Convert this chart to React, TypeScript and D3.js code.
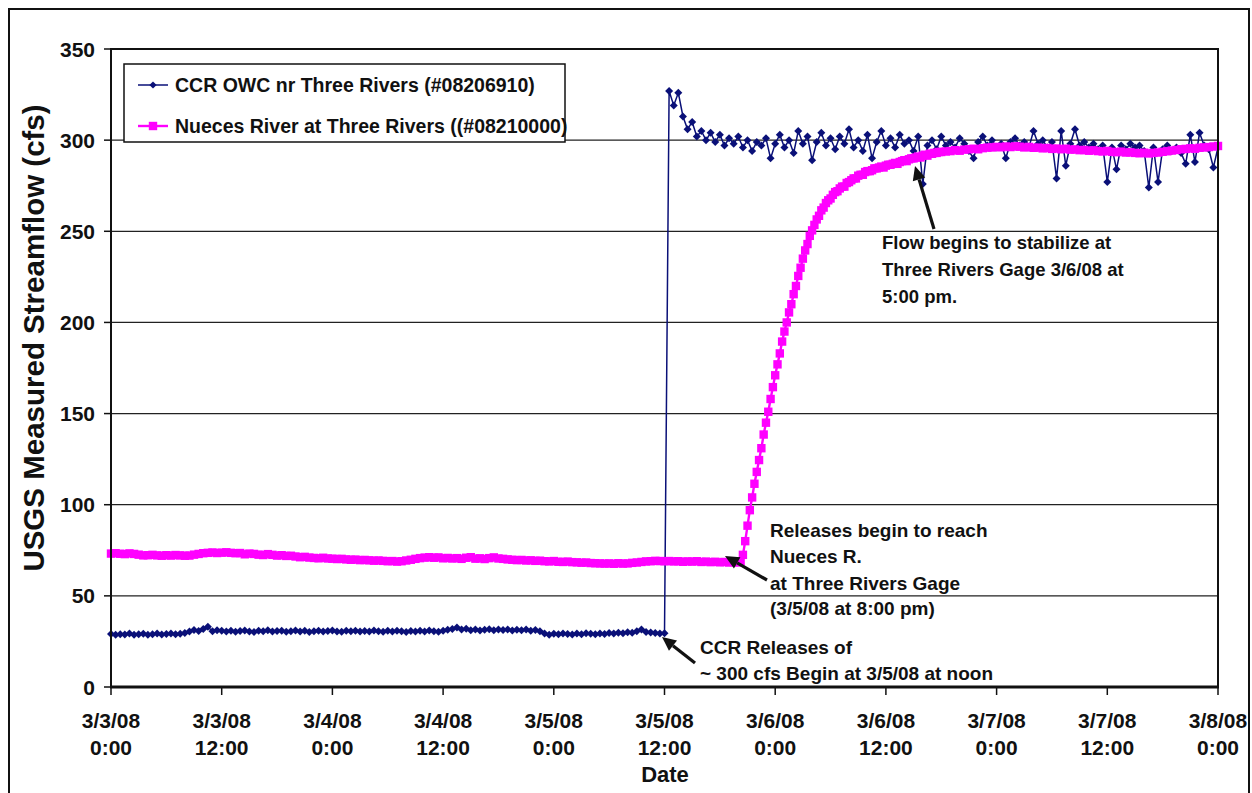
import React from "react";
import * as d3 from "d3";

// ---- Data (cfs) ----
// CCR OWC nr Three Rivers, 30-min values from 3/3/08 0:00 to 3/5/08 12:00
const ccrPre = [
  29.1, 28.6, 29.0, 28.8, 29.3, 28.7, 28.9, 29.2, 28.6, 29.0,
  29.3, 28.8, 29.1, 29.4, 28.9, 29.2, 29.6, 30.4, 31.3, 30.7,
  31.8, 33.0, 30.6, 31.2, 30.8, 30.4, 30.9, 30.3, 30.7, 31.0,
  30.5, 30.2, 30.8, 30.6, 31.1, 30.4, 30.7, 30.9, 30.3, 30.6,
  31.0, 30.5, 30.8, 30.2, 30.6, 30.9, 30.4, 30.7, 31.0, 30.5,
  30.3, 30.8, 30.6, 30.9, 30.4, 30.7, 30.5, 31.0, 30.6, 30.3,
  30.8, 30.5, 30.9, 30.6, 30.2, 30.7, 30.4, 30.8, 30.5, 31.0,
  30.6, 30.3, 30.9, 31.4, 31.8, 32.6, 31.5, 31.9, 31.2, 31.6,
  31.0, 31.4, 31.7, 31.1, 31.5, 31.3, 31.6, 31.0, 31.4, 31.2,
  31.5, 30.9, 31.3, 30.6, 29.4, 28.7, 29.2, 28.9, 29.4, 29.1,
  28.8, 29.3, 29.0, 29.5, 29.2, 28.9, 29.4, 29.1, 29.6, 29.3,
  29.8, 29.5, 30.1, 29.8, 30.6, 31.6, 30.2, 29.9, 29.6, 29.4,
  29.5,
];
// CCR OWC, 30-min values from 3/5/08 12:30 to 3/8/08 0:00
const ccrPost = [
  327, 319, 326, 313, 306, 310, 302, 305, 300, 304,
  299, 303, 297, 301, 298, 302, 296, 300, 294, 299,
  297, 301, 290, 298, 303, 296, 300, 293, 305, 298,
  302, 289, 299, 304, 297, 301, 295, 302, 298, 306,
  296, 300, 294, 303, 290, 299, 305, 297, 301, 296,
  303, 298, 300, 294, 302, 276, 297, 300, 295, 302,
  297, 299, 296, 301, 298, 294, 290, 299, 302, 297,
  300, 296, 298, 290, 299, 301, 297, 299, 296, 305,
  298, 300, 296, 299, 279, 305, 286, 298, 306, 297,
  299, 296, 298, 295, 297, 277, 296, 284, 297, 295,
  298, 296, 297, 294, 274, 296, 277, 295, 297, 294,
  296, 293, 287, 303, 288, 304, 297, 295, 285, 296,
];
// Nueces River at Three Rivers, 30-min values from 3/3/08 0:00 to 3/5/08 19:30
const nuecesFlat = [
  73.2, 73.4, 73.1, 72.9, 73.3, 73.0, 72.6, 72.2, 72.3, 72.5, 72.2,
  72.0, 72.3, 72.1, 72.4, 72.2, 72.0, 72.1, 72.6, 73.0, 73.4,
  73.6, 73.8, 73.5, 73.7, 73.9, 73.6, 73.4, 73.5, 72.8, 73.2, 73.0, 72.6,
  72.4, 72.9, 72.5, 72.1, 72.3, 71.9, 72.0, 71.6, 71.2, 71.4, 71.0, 70.8, 70.6, 70.9, 70.5, 70.4,
  70.2, 70.3, 70.0, 69.8, 69.9, 69.6, 69.7, 69.5, 69.3, 69.4, 69.2, 69.0, 69.1, 68.8, 69.0, 69.4, 69.8, 70.3,
  70.7, 71.0, 71.2, 70.9, 71.1, 70.6, 70.8, 70.5, 70.7, 70.3, 70.9, 71.2, 70.4, 70.6, 70.2, 70.7, 71.1, 70.5, 70.3, 70.0,
  69.8, 69.6, 69.7, 69.4, 69.5, 69.2, 69.3, 69.0, 68.9, 69.1, 68.7, 68.6, 68.8, 68.5, 68.4, 68.2, 68.3, 68.0, 67.9, 67.8,
  67.7, 67.8, 67.6, 67.9, 67.7, 67.8, 68.1, 68.3, 68.6, 68.9, 69.0, 69.2, 69.1, 69.0,
  69.1, 68.9, 69.0, 68.7, 68.9, 68.8, 69.0, 68.6, 68.8, 68.5, 68.7, 68.4, 68.6, 68.3, 68.5,
];
// Nueces River, 15-min values from 3/5/08 20:00 to 3/6/08 18:00
const nuecesRise = [
  68.3, 69.0, 72.5, 80, 88.5, 97, 104, 111.5, 118, 124.5, 131, 138.5,
  145, 151, 158, 164.5, 171, 177, 183, 189.5, 195, 200, 205.5, 210,
  215.5, 220, 225.5, 230, 235, 239.5, 243, 247.5, 250.5, 253.5, 256.5, 258.5,
  261.5, 263, 265.5, 267, 268, 270, 271.5, 272, 273.5, 274.5, 274.5, 276.5,
  277, 278, 279, 279, 280.5, 281, 281, 282.5, 283, 283, 283.5, 284.5,
  284.5, 285, 285.5, 285, 286, 286.5, 286.5, 287, 287.5, 287, 288, 288.5,
  289, 288.5, 289.5, 290, 290, 290.5, 291, 290.5, 291.5, 292, 291.5, 292.5,
  292.5, 293, 293, 293.5, 293.5,
];
// Nueces River, 30-min values from 3/6/08 18:30 to 3/8/08 0:00
const nuecesLate = [
  293.8, 294, 294.5, 294.2, 294.8, 295, 295.3, 295, 295.6, 295.9,
  296, 296.3, 296.1, 296.5, 296.2, 296.6, 296.4, 296, 296.3, 295.8,
  295.9, 295.5, 295.7, 295.2, 295.4, 295, 295.3, 294.8, 294.9, 294.5,
  294.6, 294.2, 294.4, 294, 293.8, 294.1, 293.6, 293.4, 293.7, 293.2,
  293.3, 293, 292.8, 293.1, 292.7, 293, 293.2, 293.6, 293.9, 294.3,
  294.6, 295, 295.2, 295.5, 295.3, 295.8, 296, 296.2, 296.5, 296.8,
];

const seriesNames = [
  "CCR OWC nr Three Rivers (#08206910)",
  "Nueces River at Three Rivers ((#08210000)",
];
const xTickDates = ["3/3/08", "3/3/08", "3/4/08", "3/4/08", "3/5/08", "3/5/08", "3/6/08", "3/6/08", "3/7/08", "3/7/08", "3/8/08"];
const xTickTimes = ["0:00", "12:00", "0:00", "12:00", "0:00", "12:00", "0:00", "12:00", "0:00", "12:00", "0:00"];
const yTicks = [0, 50, 100, 150, 200, 250, 300, 350];

type Pt = { h: number; v: number };
const seg = (vals: number[], start: number, step: number): Pt[] =>
  vals.map((v, i) => ({ h: start + i * step, v }));

const ccr: Pt[] = [...seg(ccrPre, 0, 0.5), ...seg(ccrPost, 60.5, 0.5)];
const nueces: Pt[] = [
  ...seg(nuecesFlat, 0, 0.5),
  ...seg(nuecesRise, 68, 0.25),
  ...seg(nuecesLate, 90.5, 0.5),
];

const FONT = "Arial, 'Liberation Sans', sans-serif";
const NAVY = "#0a1078";
const MAGENTA = "#ff00ff";

function Arrow({ x1, y1, x2, y2 }: { x1: number; y1: number; x2: number; y2: number }) {
  const ang = Math.atan2(y2 - y1, x2 - x1);
  const len = 14;
  const w = 6.5;
  const bx = x2 - len * Math.cos(ang);
  const by = y2 - len * Math.sin(ang);
  const px = -Math.sin(ang) * w;
  const py = Math.cos(ang) * w;
  return (
    <g>
      <line x1={x1} y1={y1} x2={bx} y2={by} stroke="#111" strokeWidth={3.2} />
      <polygon points={`${x2},${y2} ${bx + px},${by + py} ${bx - px},${by - py}`} fill="#111" />
    </g>
  );
}

export default function App() {
  const W = 1252;
  const H = 793;
  const left = 111, right = 1218, top = 49, bottom = 687;
  const x = d3.scaleLinear().domain([0, 120]).range([left, right]);
  const y = d3.scaleLinear().domain([0, 350]).range([bottom, top]);
  const line = d3
    .line<Pt>()
    .x((d) => x(d.h))
    .y((d) => y(d.v));
  const xTickHours = xTickDates.map((_, i) => i * 12);
  const diamond = (cx: number, cy: number, r: number) =>
    `M${cx},${cy - r}L${cx + r},${cy}L${cx},${cy + r}L${cx - r},${cy}Z`;

  const annStyle = { fontFamily: FONT, fontWeight: 700, fontSize: 19, fill: "#111" } as const;
  const tickStyle = { fontFamily: FONT, fontWeight: 700, fontSize: 21, fill: "#111" } as const;
  const PS = 8.4;

  return (
    <svg
      width={W}
      height={H}
      style={{ position: "absolute", left: 0, top: 0, background: "#fff" }}
      xmlns="http://www.w3.org/2000/svg"
    >
      <rect x={0} y={0} width={W} height={H} fill="#fff" />
      {/* outer frame */}
      <rect x={9} y={9} width={1240} height={800} fill="none" stroke="#111" strokeWidth={2} />

      {/* gridlines */}
      {yTicks.slice(1, -1).map((t) => (
        <line key={t} x1={left} x2={right} y1={y(t)} y2={y(t)} stroke="#222" strokeWidth={1.3} />
      ))}

      {/* y ticks and labels */}
      {yTicks.map((t) => (
        <g key={t}>
          <line x1={left - 7} x2={left} y1={y(t)} y2={y(t)} stroke="#111" strokeWidth={1.5} />
          <text x={95} y={y(t)} textAnchor="end" dominantBaseline="central" style={tickStyle}>
            {t}
          </text>
        </g>
      ))}

      {/* x ticks and labels */}
      {xTickHours.map((h, i) => (
        <g key={h}>
          <line x1={x(h)} x2={x(h)} y1={bottom} y2={bottom + 8} stroke="#111" strokeWidth={1.5} />
          <text x={x(h)} y={728} textAnchor="middle" style={tickStyle}>
            {xTickDates[i]}
          </text>
          <text x={x(h)} y={755} textAnchor="middle" style={tickStyle}>
            {xTickTimes[i]}
          </text>
        </g>
      ))}

      {/* axis titles */}
      <text x={665} y={782} textAnchor="middle" style={{ fontFamily: FONT, fontWeight: 700, fontSize: 22, fill: "#111" }}>
        Date
      </text>
      <text
        transform={`translate(44,338) rotate(-90)`}
        textAnchor="middle"
        style={{ fontFamily: FONT, fontWeight: 700, fontSize: 29.5, fill: "#111" }}
      >
        USGS Measured Streamflow (cfs)
      </text>

      {/* CCR series */}
      <path d={line(ccr) || ""} fill="none" stroke={NAVY} strokeWidth={1.5} />
      {ccr.map((d, i) => (
        <path key={"c" + i} d={diamond(x(d.h), y(d.v), 4)} fill={NAVY} />
      ))}

      {/* Nueces series */}
      <path d={line(nueces) || ""} fill="none" stroke={MAGENTA} strokeWidth={2.4} />
      {nueces.map((d, i) => (
        <rect key={"n" + i} x={x(d.h) - PS / 2} y={y(d.v) - PS / 2} width={PS} height={PS} fill={MAGENTA} />
      ))}

      {/* plot border */}
      <rect x={left} y={top} width={right - left} height={bottom - top} fill="none" stroke="#111" strokeWidth={2} />
      <line x1={left - 1} x2={right + 1} y1={bottom} y2={bottom} stroke="#111" strokeWidth={3} />

      {/* legend */}
      <rect x={124} y={64} width={441} height={78} fill="#fff" stroke="#111" strokeWidth={1.5} />
      <line x1={138} x2={168} y1={85} y2={85} stroke={NAVY} strokeWidth={1.5} />
      <path d={diamond(153, 85, 3.6)} fill={NAVY} />
      <text x={175} y={85} dominantBaseline="central" style={{ fontFamily: FONT, fontWeight: 700, fontSize: 19.5, fill: "#111" }}>
        {seriesNames[0]}
      </text>
      <line x1={138} x2={168} y1={126} y2={126} stroke={MAGENTA} strokeWidth={2.4} />
      <rect x={153 - PS / 2} y={126 - PS / 2} width={PS} height={PS} fill={MAGENTA} />
      <text x={175} y={126} dominantBaseline="central" style={{ fontFamily: FONT, fontWeight: 700, fontSize: 19.5, fill: "#111" }}>
        {seriesNames[1]}
      </text>

      {/* annotations */}
      <text style={{ ...annStyle, fontSize: 18.5 }}>
        <tspan x={882} y={249}>Flow begins to stabilize at</tspan>
        <tspan x={882} y={276}>Three Rivers Gage 3/6/08 at</tspan>
        <tspan x={882} y={303}>5:00 pm.</tspan>
      </text>
      <Arrow x1={934} y1={229} x2={915} y2={166} />

      <text style={annStyle}>
        <tspan x={770} y={537}>Releases begin to reach</tspan>
        <tspan x={770} y={563}>Nueces R.</tspan>
        <tspan x={770} y={590}>at Three Rivers Gage</tspan>
        <tspan x={770} y={615}>(3/5/08 at 8:00 pm)</tspan>
      </text>
      <Arrow x1={767} y1={580} x2={725} y2={556} />

      <text style={annStyle}>
        <tspan x={700} y={654}>CCR Releases of</tspan>
        <tspan x={700} y={680}>~ 300 cfs Begin at 3/5/08 at noon</tspan>
      </text>
      <Arrow x1={695} y1={663} x2={662} y2={637} />
    </svg>
  );
}
